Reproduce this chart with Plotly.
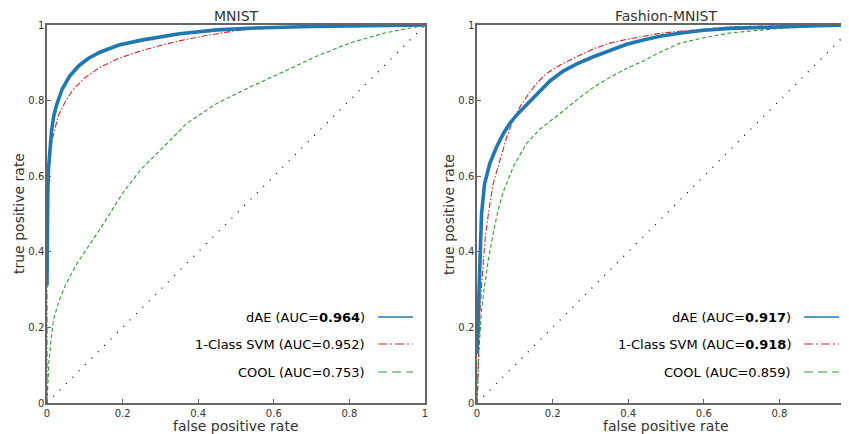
import plotly.graph_objects as go

# ---------------- data ----------------
titles = ["MNIST", "Fashion-MNIST"]
tick_vals = [0, 0.2, 0.4, 0.6, 0.8, 1]
tick_text = ["0", "0.2", "0.4", "0.6", "0.8", "1"]
diag = [0, 1]

# MNIST
m_dae_fpr = [0, 0, 0.002, 0.004, 0.007, 0.012, 0.018, 0.026, 0.04, 0.06, 0.085, 0.11, 0.14,
             0.19, 0.25, 0.3, 0.35, 0.45, 0.55, 0.7, 0.85, 1.0]
m_dae_tpr = [0.31, 0.45, 0.55, 0.62, 0.67, 0.72, 0.76, 0.79, 0.83, 0.865, 0.893, 0.912, 0.928,
             0.947, 0.96, 0.969, 0.977, 0.987, 0.992, 0.996, 0.998, 1.0]
m_svm_fpr = [0, 0, 0.005, 0.01, 0.017, 0.03, 0.05, 0.07, 0.1, 0.14, 0.19, 0.25, 0.3, 0.35,
             0.42, 0.5, 0.6, 0.75, 0.9, 1.0]
m_svm_tpr = [0, 0.55, 0.64, 0.68, 0.71, 0.76, 0.80, 0.83, 0.86, 0.888, 0.912, 0.932, 0.946,
             0.958, 0.972, 0.985, 0.993, 0.997, 0.999, 1.0]
m_cool_fpr = [0, 0.002, 0.005, 0.01, 0.017, 0.03, 0.05, 0.08, 0.115, 0.15, 0.2, 0.25, 0.3,
              0.37, 0.45, 0.54, 0.625, 0.71, 0.8, 0.89, 0.95, 1.0]
m_cool_tpr = [0, 0.06, 0.11, 0.16, 0.22, 0.265, 0.315, 0.37, 0.422, 0.475, 0.555, 0.62, 0.669,
              0.74, 0.793, 0.837, 0.876, 0.916, 0.952, 0.978, 0.99, 1.0]

# Fashion-MNIST
f_dae_fpr = [0, 0.002, 0.004, 0.008, 0.012, 0.02, 0.034, 0.052, 0.07, 0.087, 0.105, 0.13,
             0.158, 0.193, 0.228, 0.264, 0.308, 0.352, 0.396, 0.44, 0.484, 0.54, 0.6, 0.67,
             0.8, 0.9, 1.0]
f_dae_tpr = [0.13, 0.19, 0.25, 0.38, 0.5, 0.58, 0.634, 0.678, 0.713, 0.74, 0.762, 0.788,
             0.815, 0.852, 0.878, 0.897, 0.916, 0.933, 0.949, 0.96, 0.97, 0.979, 0.986, 0.991,
             0.996, 0.998, 1.0]
f_svm_fpr = [0, 0.002, 0.004, 0.008, 0.017, 0.021, 0.03, 0.043, 0.061, 0.079, 0.096, 0.114,
             0.131, 0.158, 0.184, 0.22, 0.264, 0.308, 0.352, 0.396, 0.484, 0.54, 0.67, 0.8, 1.0]
f_svm_tpr = [0, 0.07, 0.14, 0.246, 0.378, 0.43, 0.5, 0.581, 0.643, 0.705, 0.749, 0.784,
             0.81, 0.846, 0.872, 0.894, 0.916, 0.937, 0.952, 0.962, 0.978, 0.984, 0.995,
             0.998, 1.0]
f_cool_fpr = [0, 0.002, 0.004, 0.012, 0.02, 0.03, 0.042, 0.056, 0.07, 0.096, 0.131, 0.167,
              0.22, 0.264, 0.308, 0.352, 0.396, 0.44, 0.484, 0.537, 0.6, 0.669, 0.8, 0.9, 1.0]
f_cool_tpr = [0, 0.035, 0.12, 0.246, 0.31, 0.378, 0.445, 0.511, 0.56, 0.625, 0.687, 0.725,
              0.766, 0.802, 0.835, 0.862, 0.885, 0.905, 0.928, 0.952, 0.966, 0.979, 0.991,
              0.997, 1.0]

legend_mnist = ["dAE (AUC=<b>0.964</b>)", "1-Class SVM (AUC=0.952)", "COOL (AUC=0.753)"]
legend_fashion = ["dAE (AUC=<b>0.917</b>)", "1-Class SVM (AUC=<b>0.918</b>)", "COOL (AUC=0.859)"]

# ---------------- styling ----------------
# page body has an 8px margin, so the figure is 8px smaller and shifted
W, H = 841, 426
FONT = "DejaVu Sans"
BLUE, RED, GREEN = "#1f77b4", "#d62728", "#2ca02c"
SPINE = "#666666"
TXT = "#333333"

fig = go.Figure()

panels = [
    ("x", "y", (m_dae_fpr, m_dae_tpr), (m_svm_fpr, m_svm_tpr), (m_cool_fpr, m_cool_tpr)),
    ("x2", "y2", (f_dae_fpr, f_dae_tpr), (f_svm_fpr, f_svm_tpr), (f_cool_fpr, f_cool_tpr)),
]

for xa, ya, dae, svm, cool in panels:
    fig.add_trace(go.Scatter(x=diag, y=diag, xaxis=xa, yaxis=ya, mode="lines",
                             line=dict(color="black", width=1.2, dash="1px,8px"),
                             showlegend=False, hoverinfo="skip"))
    fig.add_trace(go.Scatter(x=cool[0], y=cool[1], xaxis=xa, yaxis=ya, mode="lines",
                             line=dict(color=GREEN, width=1.1, dash="4px,2.5px"),
                             showlegend=False))
    fig.add_trace(go.Scatter(x=svm[0], y=svm[1], xaxis=xa, yaxis=ya, mode="lines",
                             line=dict(color=RED, width=1.1, dash="6px,2px,1.5px,2px"),
                             showlegend=False))
    fig.add_trace(go.Scatter(x=dae[0], y=dae[1], xaxis=xa, yaxis=ya, mode="lines",
                             line=dict(color=BLUE, width=3.6),
                             showlegend=False))

axis_common = dict(
    tickvals=tick_vals, ticktext=tick_text, ticks="inside", ticklen=4, tickwidth=1,
    tickcolor=SPINE, showline=True, linecolor=SPINE, linewidth=1.5, mirror=True,
    showgrid=False, zeroline=False, tickfont=dict(family=FONT, size=10, color=TXT),
    layer="below traces", fixedrange=True, automargin=False,
)

L0, L1 = 39 / W, 417 / W
R0, R1 = 469 / W, 1.0
r_range_max = (W - 469) / 378.0

fig.update_layout(
    width=W, height=H,
    margin=dict(l=0, r=0, t=17, b=31, pad=0, autoexpand=False),
    paper_bgcolor="white", plot_bgcolor="white",
    font=dict(family=FONT, color=TXT),
    showlegend=False,
    xaxis=dict(domain=[L0, L1], range=[0, 1], anchor="y", **axis_common),
    yaxis=dict(domain=[0, 1], range=[0, 1], anchor="x", ticklabelstandoff=-1, **axis_common),
    xaxis2=dict(domain=[R0, R1], range=[0, r_range_max], anchor="y2", **axis_common),
    yaxis2=dict(domain=[0, 1], range=[0, 1], anchor="x2", ticklabelstandoff=-1, **axis_common),
)

# titles and axis labels
ann = []
for i, (xa, ya) in enumerate([("x", "y"), ("x2", "y2")]):
    ann.append(dict(text=titles[i], xref=xa, yref="paper", x=0.5, y=1, yanchor="bottom",
                    yshift=0, showarrow=False, borderpad=0,
                    font=dict(family=FONT, size=14, color=TXT)))
    ann.append(dict(text="false positive rate", xref=xa, yref="paper", x=0.5, y=0,
                    yanchor="middle", yshift=-23, showarrow=False, borderpad=0,
                    font=dict(family=FONT, size=14, color=TXT)))
    ann.append(dict(text="true positive rate", xref="paper", borderpad=0,
                    yref="paper", x=(11 if i == 0 else 441) / W, y=0.5, textangle=-90,
                    xanchor="center", yanchor="middle", showarrow=False,
                    font=dict(family=FONT, size=14, color=TXT)))

# custom legends (text left, line sample right)
leg_y = [0.2275, 0.156, 0.082]
leg_styles = [dict(color=BLUE, width=1.5), dict(color=RED, width=1.1, dash="9px,3px,2px,3px"),
              dict(color=GREEN, width=1.1, dash="9px,5px")]
shapes = []
for i, (xa, ya, leg) in enumerate([("x", "y", legend_mnist), ("x2", "y2", legend_fashion)]):
    text_end = 0.847 if i == 0 else 0.836
    s0, s1 = (0.876, 0.968) if i == 0 else (0.865, 0.958)
    for j in range(3):
        ann.append(dict(text=leg[j], xref=xa, yref=ya, x=text_end, y=leg_y[j], xanchor="right",
                        yanchor="middle", showarrow=False,
                        font=dict(family=FONT, size=13, color="black")))
        shapes.append(dict(type="line", xref=xa, yref=ya, x0=s0, x1=s1, y0=leg_y[j], y1=leg_y[j],
                           line=leg_styles[j]))

fig.update_layout(annotations=ann, shapes=shapes)
fig.write_html("out.html")
